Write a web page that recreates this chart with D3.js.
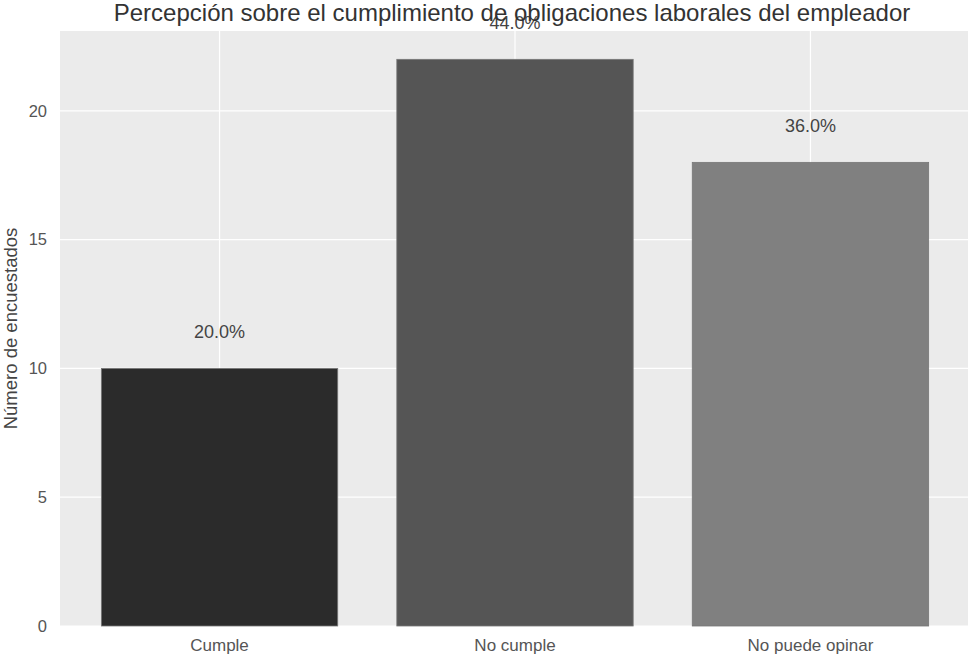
<!DOCTYPE html>
<html>
<head>
<meta charset="utf-8">
<script src="https://cdn.jsdelivr.net/npm/d3@7"></script>
<style>
  body { margin: 0; background: #fff; }
  text { font-family: "Liberation Sans", Arial, sans-serif; }
</style>
</head>
<body>
<script>
const categories = ['Cumple', 'No cumple', 'No puede opinar'];
const counts = [10, 22, 18];
const percents = ['20.0%', '44.0%', '36.0%'];
const barColors = ['#2b2b2b', '#555555', '#808080'];
const yTicks = [0, 5, 10, 15, 20];

const width = 968, height = 658;
const margin = { top: 31, right: -2, bottom: 32, left: 60 };

const svg = d3.select('body').append('svg')
  .attr('width', width)
  .attr('height', height);

const x = d3.scaleLinear()
  .domain([-0.54, 2.54])
  .range([margin.left, width - margin.right]);

const y = d3.scaleLinear()
  .domain([0, 23.1])
  .range([height - margin.bottom, margin.top]);

// plot background
svg.append('rect')
  .attr('x', x(-0.54))
  .attr('y', y(23.1))
  .attr('width', x(2.54) - x(-0.54))
  .attr('height', y(0) - y(23.1))
  .attr('fill', '#ebebeb');

// grid
svg.append('g').selectAll('line.h')
  .data(yTicks)
  .enter().append('line')
  .attr('x1', x(-0.54)).attr('x2', x(2.54))
  .attr('y1', d => y(d)).attr('y2', d => y(d))
  .attr('stroke', '#fff').attr('stroke-width', 1.2);

svg.append('g').selectAll('line.v')
  .data(categories)
  .enter().append('line')
  .attr('x1', (d, i) => x(i)).attr('x2', (d, i) => x(i))
  .attr('y1', y(0)).attr('y2', y(23.1))
  .attr('stroke', '#fff').attr('stroke-width', 1.2);

// bars
svg.append('g').selectAll('rect')
  .data(counts)
  .enter().append('rect')
  .attr('x', (d, i) => x(i - 0.4))
  .attr('y', d => y(d))
  .attr('width', (d, i) => x(i + 0.4) - x(i - 0.4))
  .attr('height', d => y(0) - y(d))
  .attr('fill', (d, i) => barColors[i])
  .attr('stroke', '#777')
  .attr('stroke-width', 0.8);

// y tick labels
svg.append('g').selectAll('text')
  .data(yTicks)
  .enter().append('text')
  .attr('x', 47)
  .attr('y', d => y(d))
  .attr('dy', '0.35em')
  .attr('text-anchor', 'end')
  .attr('font-size', 16.5)
  .attr('fill', '#555')
  .text(d => d);

// x tick labels
svg.append('g').selectAll('text')
  .data(categories)
  .enter().append('text')
  .attr('x', (d, i) => x(i))
  .attr('y', y(0) + 25)
  .attr('text-anchor', 'middle')
  .attr('font-size', 17)
  .attr('fill', '#555')
  .text(d => d);

// percentage labels
svg.append('g').selectAll('text')
  .data(percents)
  .enter().append('text')
  .attr('x', (d, i) => x(i))
  .attr('y', (d, i) => y(counts[i]) - 30)
  .attr('text-anchor', 'middle')
  .attr('font-size', 18)
  .attr('fill', '#444')
  .text(d => d);

// y label
svg.append('text')
  .attr('transform', `translate(17,${(y(0) + y(23.1)) / 2}) rotate(-90)`)
  .attr('text-anchor', 'middle')
  .attr('font-size', 18.5)
  .attr('fill', '#444')
  .text('Número de encuestados');

// title
svg.append('text')
  .attr('x', 512)
  .attr('y', 21)
  .attr('text-anchor', 'middle')
  .attr('font-size', 24)
  .attr('fill', '#333')
  .text('Percepción sobre el cumplimiento de obligaciones laborales del empleador');
</script>
</body>
</html>
